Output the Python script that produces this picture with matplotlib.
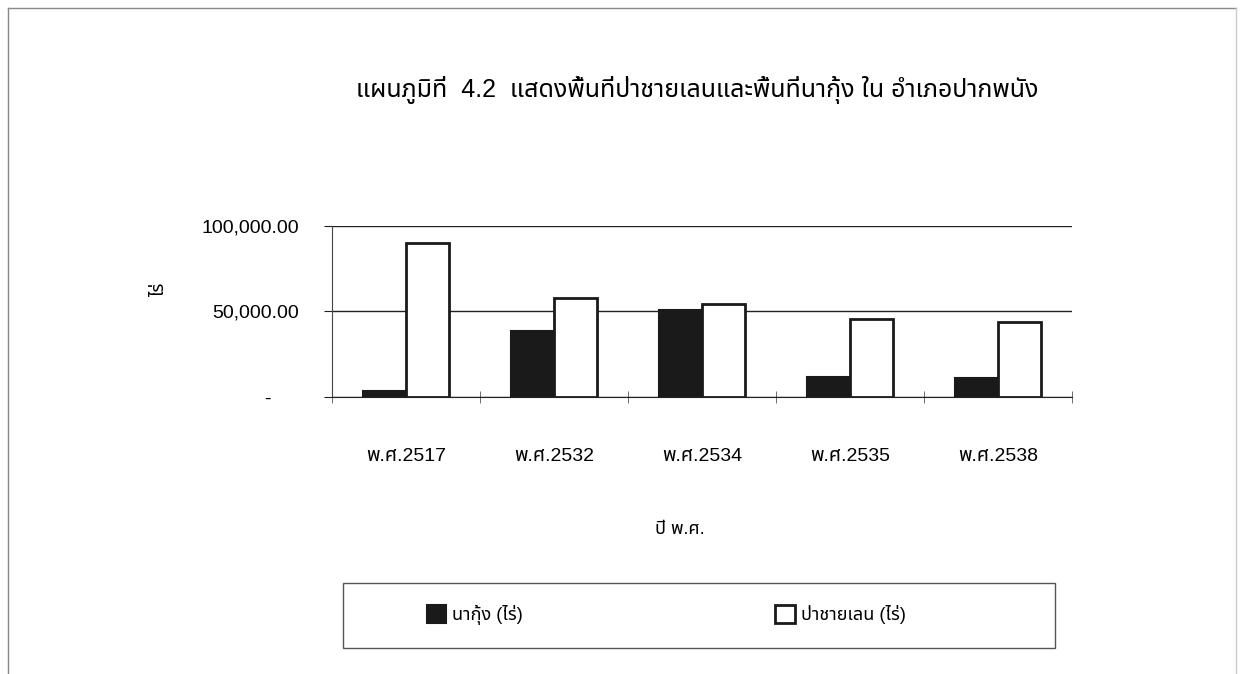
import matplotlib
matplotlib.use("Agg")
import matplotlib.pyplot as plt
import numpy as np
from matplotlib.patches import Rectangle
from matplotlib.lines import Line2D

plt.rcParams['font.family'] = ['Liberation Sans', 'Noto Sans Thai']

years = ['พ.ศ.2517', 'พ.ศ.2532', 'พ.ศ.2534', 'พ.ศ.2535', 'พ.ศ.2538']
shrimp = [3300, 38800, 50900, 11500, 10900]
mangrove = [90300, 58000, 54400, 45800, 44100]

W, H = 1241, 674
fig = plt.figure(figsize=(W / 100, H / 100), dpi=100)

# outer frame of the chart area
fig.add_artist(Line2D([8 / W, 8 / W], [0, 1 - 8 / H], color='#888888', lw=1))
fig.add_artist(Line2D([8 / W, 1236 / W], [1 - 8 / H, 1 - 8 / H], color='#888888', lw=1))
fig.add_artist(Line2D([1236 / W, 1236 / W], [0, 1 - 8 / H], color='#cccccc', lw=1))

ax = fig.add_axes([332 / W, 1 - 397 / H, (1072 - 332) / W, (397 - 226) / H])

x = np.arange(len(years))
bw = 0.29
ax.bar(x - bw / 2, shrimp, bw, color='#1a1a1a', edgecolor='#1a1a1a', lw=1.5, label='นากุ้ง (ไร่)', zorder=3)
ax.bar(x + bw / 2, mangrove, bw, color='white', edgecolor='#1a1a1a', lw=2, label='ป่าชายเลน (ไร่)', zorder=3)

ax.set_xlim(-0.5, len(years) - 0.5)
ax.set_ylim(0, 100000)
ax.set_yticks([0, 50000, 100000])
ax.set_yticklabels(['-     ', '50,000.00', '100,000.00'], fontsize=14)
ax.yaxis.grid(True, color='#222222', lw=1)
ax.set_axisbelow(True)

ax.set_xticks(x)
ax.set_xticklabels(years, fontsize=14)
ax.tick_params(axis='x', length=0, pad=37)
ax.set_xticks(np.arange(len(years) + 1) - 0.5, minor=True)
ax.tick_params(axis='x', which='minor', length=8, direction='inout', color='#555555')
ax.tick_params(axis='y', length=6, pad=18, color='#222222')

for s in ['top', 'right']:
    ax.spines[s].set_visible(False)
ax.spines['left'].set_color('#444444')
ax.spines['bottom'].set_color('#222222')

ax.set_ylabel('ไร่', fontsize=13)
ax.yaxis.set_label_coords(168 / W, 1 - 290 / H, transform=fig.transFigure)

fig.text(697 / W, 1 - 90 / H, 'แผนภูมิที่  4.2  แสดงพื้นที่ป่าชายเลนและพื้นที่นากุ้ง ใน อำเภอปากพนัง',
         ha='center', va='center', fontsize=18)
fig.text(680 / W, 1 - 530 / H, 'ปี พ.ศ.', ha='center', va='center', fontsize=13)

# legend box
fig.add_artist(Rectangle((343 / W, 1 - 648 / H), (1055 - 343) / W, (648 - 583) / H,
                         transform=fig.transFigure, fill=False, edgecolor='#555555', lw=1))
fig.legend(loc='center', bbox_to_anchor=(666 / W, 1 - 615 / H), ncol=2, frameon=False,
           fontsize=13, handlelength=1.1, handleheight=1.1, handletextpad=0.3, columnspacing=14)

fig.savefig('out.png', dpi=100)
